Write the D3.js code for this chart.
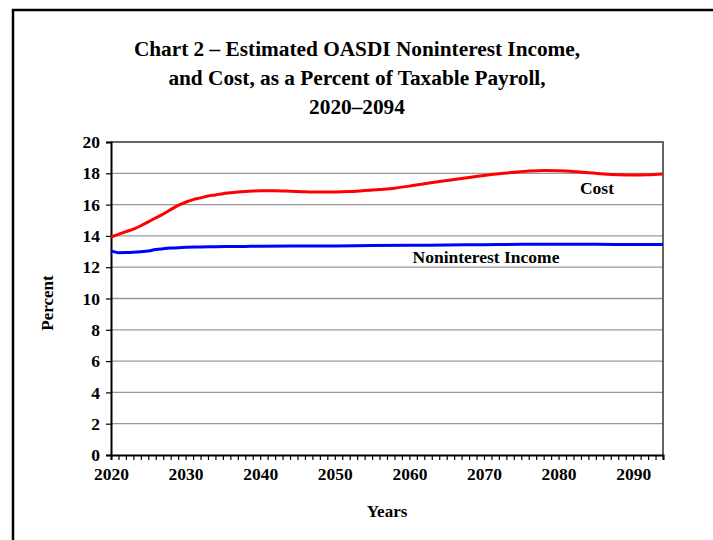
<!DOCTYPE html>
<html>
<head>
<meta charset="utf-8">
<script src="https://cdn.jsdelivr.net/npm/d3@7"></script>
<style>
  html, body { margin: 0; padding: 0; background: #fff; }
  svg { display: block; font-family: 'Liberation Serif', 'Times New Roman', serif; font-weight: bold; }
</style>
</head>
<body>
<div id="chart"></div>
<script>
/* global d3 */

const titleLines = [
  'Chart 2 \u2013 Estimated OASDI Noninterest Income,',
  'and Cost, as a Percent of Taxable Payroll,',
  '2020\u20132094',
];

const costYears = [2020, 2021, 2022, 2023, 2024, 2025, 2026, 2027, 2028, 2029,
  2030, 2031, 2032, 2033, 2034, 2035, 2036, 2037, 2038, 2039, 2040, 2042, 2044,
  2046, 2048, 2050, 2052, 2054, 2056, 2058, 2060, 2062, 2064, 2066, 2068, 2070,
  2072, 2074, 2076, 2078, 2080, 2082, 2084, 2086, 2088, 2090, 2092, 2094];
const costValues = [13.93, 14.1, 14.27, 14.43, 14.65, 14.9, 15.15, 15.4, 15.68, 15.95,
  16.15, 16.32, 16.43, 16.55, 16.62, 16.7, 16.75, 16.8, 16.84, 16.87, 16.89, 16.89, 16.86,
  16.82, 16.8, 16.8, 16.83, 16.9, 16.97, 17.05, 17.18, 17.33, 17.47, 17.6, 17.73, 17.86,
  17.97, 18.06, 18.14, 18.18, 18.16, 18.11, 18.03, 17.96, 17.91, 17.89, 17.91, 17.96];

const incomeYears = [2020, 2021, 2022, 2023, 2024, 2025, 2026, 2027, 2028, 2029,
  2030, 2032, 2034, 2036, 2038, 2040, 2045, 2050, 2055, 2060, 2065, 2070, 2075,
  2080, 2085, 2090, 2094];
const incomeValues = [13.04, 12.93, 12.94, 12.96, 12.99, 13.03, 13.13, 13.18, 13.22, 13.25,
  13.27, 13.29, 13.31, 13.32, 13.33, 13.34, 13.35, 13.36, 13.38, 13.4, 13.42, 13.44, 13.46,
  13.46, 13.46, 13.45, 13.45];

const yTicks = [0, 2, 4, 6, 8, 10, 12, 14, 16, 18, 20];
const xTicks = [2020, 2030, 2040, 2050, 2060, 2070, 2080, 2090];

const cfg = {
  width: 713,
  height: 540,
  left: 111,
  right: 663,
  top: 142,
  bottom: 455,
  costColor: '#ff0000',
  incomeColor: '#0000ff',
  gridColor: '#999',
  tickFont: '17.5px',
  labelFont: '17.5px',
};

const svg = d3.select('#chart').append('svg')
  .attr('width', cfg.width)
  .attr('height', cfg.height);

// outer frame (runs off the page on the right and bottom)
svg.append('rect')
  .attr('x', 13).attr('y', 10)
  .attr('width', 760).attr('height', 600)
  .style('fill', 'none')
  .style('stroke', '#000')
  .style('stroke-width', 2.5);

svg.selectAll('text.title')
  .data(titleLines).enter().append('text')
  .attr('class', 'title')
  .attr('x', 357)
  .attr('y', (d, i) => 56 + i * 29)
  .attr('text-anchor', 'middle')
  .style('font-size', '21.3px')
  .text(d => d);

const x = d3.scaleLinear().domain([2020, 2094]).range([cfg.left, cfg.right]);
const y = d3.scaleLinear().domain([0, 20]).range([cfg.bottom, cfg.top]);

// gridlines
svg.append('g')
  .selectAll('line')
  .data(yTicks.filter(d => d > 0 && d < 20)).enter().append('line')
  .attr('x1', cfg.left).attr('x2', cfg.right)
  .attr('y1', d => y(d)).attr('y2', d => y(d))
  .style('stroke', cfg.gridColor)
  .style('stroke-width', 1.3);

// plot border top / right
svg.append('path')
  .attr('d', `M${cfg.left},${cfg.top}H${cfg.right}V${cfg.bottom}`)
  .style('fill', 'none')
  .style('stroke', '#333')
  .style('stroke-width', 1.5);

const yAxis = svg.append('g')
  .attr('transform', `translate(${cfg.left},0)`)
  .call(d3.axisLeft(y).tickValues(yTicks).tickSize(5).tickPadding(6).tickFormat(d3.format('d')));

const xAxis = svg.append('g')
  .attr('transform', `translate(0,${cfg.bottom})`)
  .call(d3.axisBottom(x).tickValues(d3.range(2020, 2095)).tickSize(5).tickFormat(''));

svg.append('g')
  .attr('transform', `translate(0,${cfg.bottom})`)
  .call(d3.axisBottom(x).tickValues(xTicks).tickSize(0).tickPadding(13).tickFormat(d3.format('d')))
  .call(g => g.select('.domain').remove());

[yAxis, xAxis].forEach((g) => {
  g.select('.domain').style('stroke', '#000').style('stroke-width', 2);
  g.selectAll('.tick line').style('stroke', '#000').style('stroke-width', 1.2);
});
svg.selectAll('.tick text')
  .style('font-family', "'Liberation Serif', 'Times New Roman', serif")
  .style('font-weight', 'bold')
  .style('font-size', cfg.tickFont)
  .style('fill', '#000');

const line = d3.line()
  .x(d => x(d[0]))
  .y(d => y(d[1]))
  .curve(d3.curveMonotoneX);

svg.append('path')
  .datum(costYears.map((d, i) => [d, costValues[i]]))
  .attr('d', line)
  .style('fill', 'none')
  .style('stroke', cfg.costColor)
  .style('stroke-width', 3);

svg.append('path')
  .datum(incomeYears.map((d, i) => [d, incomeValues[i]]))
  .attr('d', line)
  .style('fill', 'none')
  .style('stroke', cfg.incomeColor)
  .style('stroke-width', 3);

// series labels
svg.append('text')
  .attr('x', 597).attr('y', 194)
  .attr('text-anchor', 'middle')
  .style('font-size', cfg.labelFont)
  .text('Cost');

svg.append('text')
  .attr('x', 486).attr('y', 263)
  .attr('text-anchor', 'middle')
  .style('font-size', cfg.labelFont)
  .text('Noninterest Income');

// axis titles
svg.append('text')
  .attr('x', 387).attr('y', 517)
  .attr('text-anchor', 'middle')
  .style('font-size', '17px')
  .text('Years');

svg.append('text')
  .attr('transform', 'translate(53,303) rotate(-90)')
  .attr('text-anchor', 'middle')
  .style('font-size', '17px')
  .text('Percent');
</script>
</body>
</html>
